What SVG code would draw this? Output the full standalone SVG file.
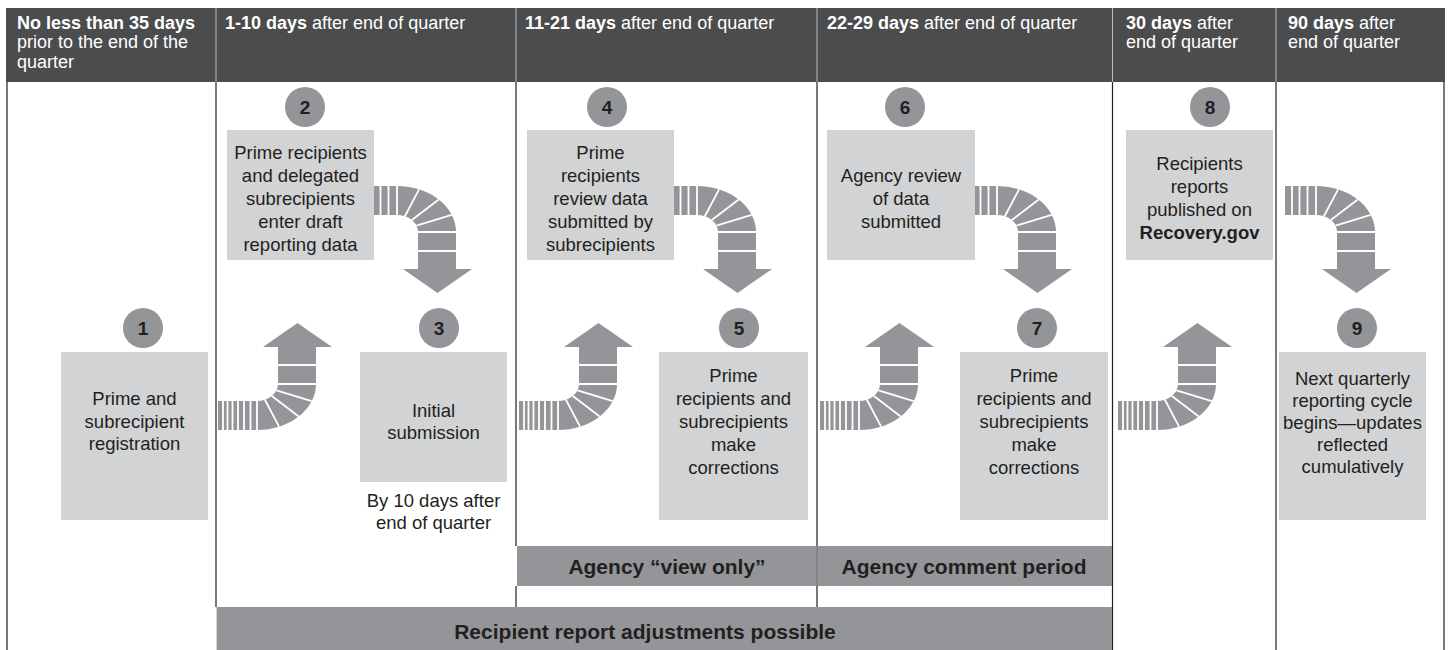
<svg xmlns="http://www.w3.org/2000/svg" width="1449" height="650" viewBox="0 0 1449 650">
<style>
text{font-family:"Liberation Sans",Arial,Helvetica,sans-serif;fill:#231f20}
.hd{fill:#fff;font-size:18px}
.b{font-weight:bold}
.bx{fill:#d1d3d4}
.ci{fill:#939598}
.num{font-size:19px;font-weight:bold;text-anchor:middle}
.t{font-size:18.5px;text-anchor:middle}
.bar{fill:#939598}
.bt{font-size:21px;font-weight:bold;text-anchor:middle}
.vl{stroke:#231f20;stroke-width:1.2;fill:none}
.hl{stroke:#b8b9bb;stroke-width:1;fill:none}
.arr{fill:#939598}
.sep{stroke:#fff;stroke-width:1.8;fill:none}
</style>
<defs>
<g id="tube">
<path class="arr" d="M0,0 A59,46 0 0 1 59,46 L59,83 L75,83 L40.5,107 L6,83 L21,83 L21,46 A21,17 0 0 0 0,29 Z"/>
<path class="sep" d="M0,0V29 M22.1,3.35L7.87,30.24 M41.7,13.47L14.85,33.98 M54.7,28.77L19.47,39.63 M21,46H59 M21,65H59"/>
</g>
<g id="tailD">
<rect class="arr" x="-31" y="0" width="31" height="29"/>
<path class="sep" d="M-24,0V29 M-16.5,0V29 M-8.5,0V29"/>
</g>
<g id="tailU">
<rect class="arr" x="-39" y="0" width="39" height="29"/>
<path class="sep" d="M-34,0V29 M-29.5,0V29 M-24.5,0V29 M-19,0V29 M-13,0V29 M-6.5,0V29"/>
</g>
</defs>

<g id="header">
<rect x="6" y="8" width="1439" height="74" fill="#4b4c4e"/>
<path class="hl" d="M216,8V82 M516,8V82 M817,8V82 M1112.5,8V82 M1276,8V82"/>
<text class="hd" x="17" y="28.5"><tspan class="b">No less than 35 days</tspan><tspan x="17" y="48">prior to the end of the</tspan><tspan x="17" y="67.5">quarter</tspan></text>
<text class="hd" x="225" y="28.5"><tspan class="b">1-10 days</tspan> after end of quarter</text>
<text class="hd" x="525" y="28.5"><tspan class="b">11-21 days</tspan> after end of quarter</text>
<text class="hd" x="827" y="28.5"><tspan class="b">22-29 days</tspan> after end of quarter</text>
<text class="hd" x="1126" y="28.5"><tspan class="b">30 days</tspan> after<tspan x="1126" y="48">end of quarter</tspan></text>
<text class="hd" x="1288" y="28.5"><tspan class="b">90 days</tspan> after<tspan x="1288" y="48">end of quarter</tspan></text>
</g>

<g id="grid">
<path class="vl" d="M7,82V650 M1444,82V650 M216,82V607 M516,82V546 M516,586V607 M817,82V607 M1112.5,82V650 M1276,82V650"/>
</g>

<g id="periods">
<rect class="bar" x="517" y="546" width="299.4" height="40"/>
<rect class="bar" x="817.6" y="546" width="294.4" height="40"/>
<text class="bt" x="667" y="573.5">Agency “view only”</text>
<text class="bt" x="964" y="573.5">Agency comment period</text>
<rect class="bar" x="216.6" y="607" width="895.4" height="43"/>
<text class="bt" x="645" y="639">Recipient report adjustments possible</text>
</g>

<g id="connectors">
<use href="#tailU" transform="translate(257,430) scale(1,-1)"/><use href="#tube" transform="translate(257,430) scale(1,-1)"/>
<use href="#tailD" transform="translate(397,186)"/><use href="#tube" transform="translate(397,186)"/>
<use href="#tailU" transform="translate(558,430) scale(1,-1)"/><use href="#tube" transform="translate(558,430) scale(1,-1)"/>
<use href="#tailD" transform="translate(697,186)"/><use href="#tube" transform="translate(697,186)"/>
<use href="#tailU" transform="translate(859,430) scale(1,-1)"/><use href="#tube" transform="translate(859,430) scale(1,-1)"/>
<use href="#tailD" transform="translate(997,186)"/><use href="#tube" transform="translate(997,186)"/>
<use href="#tailU" transform="translate(1157,430) scale(1,-1)"/><use href="#tube" transform="translate(1157,430) scale(1,-1)"/>
<use href="#tailD" transform="translate(1316,186)"/><use href="#tube" transform="translate(1316,186)"/>
</g>

<g id="step1">
<circle class="ci" cx="143" cy="328" r="20"/><text class="num" x="143" y="335">1</text>
<rect class="bx" x="61" y="352" width="147" height="168"/>
<text class="t" x="134.5" y="405">Prime and<tspan x="134.5" y="427.5">subrecipient</tspan><tspan x="134.5" y="450">registration</tspan></text>
</g>
<g id="step2">
<circle class="ci" cx="305" cy="107" r="20"/><text class="num" x="305" y="114">2</text>
<rect class="bx" x="227" y="130" width="147" height="130"/>
<text class="t" x="300.5" y="158.5">Prime recipients<tspan x="300.5" y="181.5">and delegated</tspan><tspan x="300.5" y="204.5">subrecipients</tspan><tspan x="300.5" y="227.5">enter draft</tspan><tspan x="300.5" y="250.5">reporting data</tspan></text>
</g>
<g id="step3">
<circle class="ci" cx="439" cy="328" r="20"/><text class="num" x="439" y="335">3</text>
<rect class="bx" x="360" y="352" width="147" height="130"/>
<text class="t" x="433.5" y="417">Initial<tspan x="433.5" y="439">submission</tspan></text>
<text class="t" x="433.5" y="507">By 10 days after<tspan x="433.5" y="529">end of quarter</tspan></text>
</g>
<g id="step4">
<circle class="ci" cx="607" cy="107" r="20"/><text class="num" x="607" y="114">4</text>
<rect class="bx" x="527" y="130" width="147" height="130"/>
<text class="t" x="600.5" y="158.5">Prime<tspan x="600.5" y="181.5">recipients</tspan><tspan x="600.5" y="204.5">review data</tspan><tspan x="600.5" y="227.5">submitted by</tspan><tspan x="600.5" y="250.5">subrecipients</tspan></text>
</g>
<g id="step5">
<circle class="ci" cx="739" cy="328" r="20"/><text class="num" x="739" y="335">5</text>
<rect class="bx" x="659" y="352" width="149" height="168"/>
<text class="t" x="733.5" y="382">Prime<tspan x="733.5" y="405">recipients and</tspan><tspan x="733.5" y="428">subrecipients</tspan><tspan x="733.5" y="451">make</tspan><tspan x="733.5" y="474">corrections</tspan></text>
</g>
<g id="step6">
<circle class="ci" cx="905" cy="107" r="20"/><text class="num" x="905" y="114">6</text>
<rect class="bx" x="827" y="130" width="148" height="130"/>
<text class="t" x="901" y="182">Agency review<tspan x="901" y="205">of data</tspan><tspan x="901" y="228">submitted</tspan></text>
</g>
<g id="step7">
<circle class="ci" cx="1037" cy="328" r="20"/><text class="num" x="1037" y="335">7</text>
<rect class="bx" x="960" y="352" width="148" height="168"/>
<text class="t" x="1034" y="382">Prime<tspan x="1034" y="405">recipients and</tspan><tspan x="1034" y="428">subrecipients</tspan><tspan x="1034" y="451">make</tspan><tspan x="1034" y="474">corrections</tspan></text>
</g>
<g id="step8">
<circle class="ci" cx="1210" cy="107" r="20"/><text class="num" x="1210" y="114">8</text>
<rect class="bx" x="1126" y="130" width="147" height="130"/>
<text class="t" x="1199.5" y="170">Recipients<tspan x="1199.5" y="193">reports</tspan><tspan x="1199.5" y="216">published on</tspan><tspan x="1199.5" y="239" class="b">Recovery.gov</tspan></text>
</g>
<g id="step9">
<circle class="ci" cx="1357" cy="328" r="20"/><text class="num" x="1357" y="335">9</text>
<rect class="bx" x="1279" y="352" width="147" height="168"/>
<text class="t" x="1352.5" y="385">Next quarterly<tspan x="1352.5" y="407">reporting cycle</tspan><tspan x="1352.5" y="429">begins—updates</tspan><tspan x="1352.5" y="451">reflected</tspan><tspan x="1352.5" y="473">cumulatively</tspan></text>
</g>
</svg>
